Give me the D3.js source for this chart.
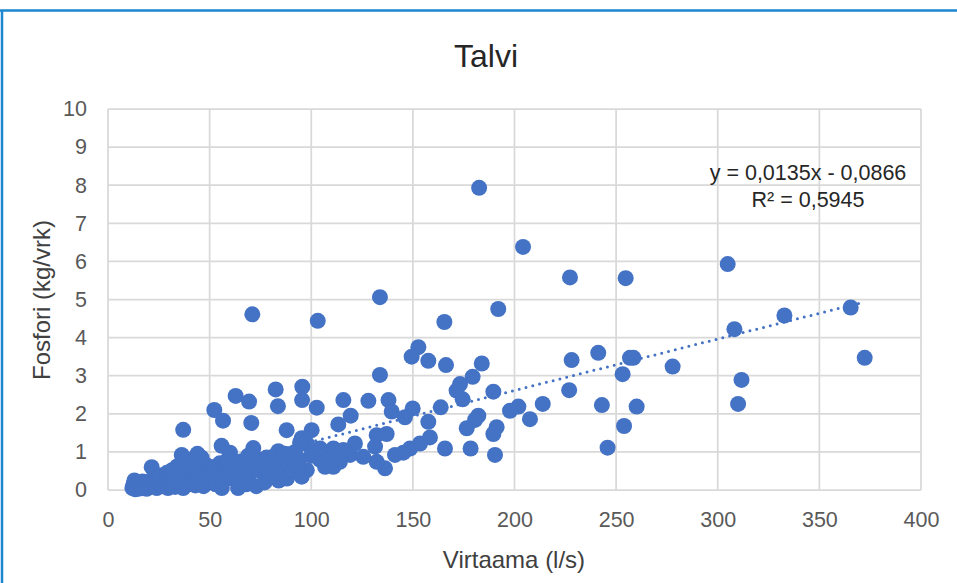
<!DOCTYPE html>
<html>
<head>
<meta charset="utf-8">
<script src="https://cdn.jsdelivr.net/npm/d3@7"></script>
<style>
  body { margin: 0; background: #fff; }
  svg { display: block; font-family: "Liberation Sans", Arial, sans-serif; }
</style>
</head>
<body>
<div class="svg-container"></div>
<script>
// Talvi: virtaama (l/s) vs fosfori (kg/vrk)
const virtaama = [
  // outliers / right side
  182.6, 204.2, 227.3, 254.7, 304.9, 133.8, 71, 103.2, 165.5, 192, 365.4, 332.8, 308.2, 372.3,
  277.8, 258.5, 256.8, 241.2, 228.1, 253.2, 311.7, 310, 226.9, 213.9, 243, 260.1, 253.9, 245.8,
  // middle
  152.7, 149.4, 157.6, 166.3, 183.9, 179.4, 173.2, 171.5, 174.5, 189.6, 163.7, 149.9, 146.1, 157.6,
  182.2, 180.6, 176.5, 191.2, 189.6, 197.8, 201.9, 207.6, 158.4, 153.5, 148.6, 145.3, 165.8, 178.4,
  190.4, 133.8, 141.2, 136.3, 138, 139.6, 132.2, 137.1, 131.4, 132.2,
  95.6, 95.5, 102.7, 115.8, 128.1, 119.4, 113.3, 100.2, 95.3, 121.5, 110.9, 104.3, 125.6, 119.1,
  114.1, 110.9, 104.3, 97.8, 95.3, 106.8, 115.8, 98, 100,
  37, 52.3, 56.6, 62.8, 69.4, 82.5, 83.6, 70.5, 87.9, 55.9, 60, 71.5, 83.8, 94.5, 21.5, 36.3, 44,
  // dense low cluster
  12, 12.5, 13, 13.5, 14, 15, 15.5, 16, 17, 17.5, 18, 19, 19.5, 20,
  22, 22.5, 23, 24, 25, 25.5, 26, 27, 28, 29, 29.5, 30,
  31, 31.5, 32, 33, 33.5, 34, 35, 35.5, 36, 37, 37.5, 38, 39, 39.5, 40,
  41, 41.5, 42, 43, 43.5, 44, 45, 46, 46.5, 47, 48, 48.5, 49, 50,
  51, 52, 53, 54, 55, 56, 57, 58, 59, 60,
  61, 62, 63, 64, 65, 66, 67, 68, 69, 70,
  72, 73, 74, 75, 76, 77, 78, 79, 80,
  81, 82, 83, 84, 85, 86, 87, 88, 89, 90, 91, 92, 93, 94,
  102, 105, 108, 112
];
const fosfori = [
  7.93, 6.38, 5.58, 5.56, 5.93, 5.06, 4.61, 4.44, 4.41, 4.75, 4.79, 4.58, 4.22, 3.47,
  3.24, 3.47, 3.47, 3.6, 3.41, 3.04, 2.89, 2.26, 2.62, 2.26, 2.23, 2.19, 1.68, 1.11,
  3.75, 3.5, 3.39, 3.28, 3.32, 2.97, 2.78, 2.61, 2.38, 2.58, 2.17, 2.14, 1.91, 1.79,
  1.95, 1.84, 1.62, 1.65, 1.47, 2.08, 2.19, 1.86, 1.38, 1.22, 1.09, 0.98, 1.09, 1.09,
  0.92, 3.02, 0.92, 0.57, 2.36, 2.06, 1.44, 1.47, 1.14, 0.74,
  2.71, 2.36, 2.16, 2.36, 2.34, 1.95, 1.72, 1.57, 1.36, 1.22, 1.09, 1.09, 0.87, 0.92,
  0.74, 0.61, 0.79, 0.52, 0.35, 0.61, 1.05, 1.2, 0.9,
  1.58, 2.1, 1.82, 2.47, 2.32, 2.64, 2.2, 1.76, 1.57, 1.16, 0.98, 1.1, 1.02, 1.25, 0.6, 0.92, 0.95,
  0.05, 0.15, 0.25, 0.02, 0.1, 0.18, 0.04, 0.12, 0.22, 0.06, 0.15, 0.03, 0.2, 0.1,
  0.3, 0.12, 0.2, 0.05, 0.28, 0.15, 0.38, 0.1, 0.22, 0.45, 0.05, 0.3,
  0.15, 0.52, 0.25, 0.08, 0.4, 0.62, 0.18, 0.35, 0.7, 0.05, 0.5, 0.25, 0.8, 0.4, 0.15,
  0.55, 0.3, 0.75, 0.12, 0.45, 0.6, 0.25, 0.85, 0.5, 0.1, 0.35, 0.65, 0.2, 0.5,
  0.3, 0.6, 0.15, 0.45, 0.7, 0.05, 0.55, 0.35, 0.8, 0.5,
  0.3, 0.65, 0.45, 0.05, 0.75, 0.55, 0.35, 0.15, 0.9, 0.45,
  0.6, 0.1, 0.8, 0.5, 0.65, 0.2, 0.85, 0.55, 0.7,
  0.45, 0.9, 0.6, 0.25, 0.75, 0.55, 0.95, 0.3, 0.7, 0.85, 0.5, 1.0, 0.65, 0.8,
  0.95, 0.85, 0.75, 0.9
];
const xTicks = [0, 50, 100, 150, 200, 250, 300, 350, 400];
const yTicks = [0, 1, 2, 3, 4, 5, 6, 7, 8, 9, 10];
const trendSlope = 0.0135;
const trendIntercept = -0.0866;
const trendLabels = ["y = 0,0135x - 0,0866", "R\u00b2 = 0,5945"];

const width = 957, height = 583;
const blue = "#4472C4", grid = "#d9d9d9", textColor = "#595959";

const svg = d3.select(".svg-container").append("svg")
  .attr("width", width)
  .attr("height", height);

svg.append("rect").attr("width", width).attr("height", height).attr("fill", "#fff");

// chart frame (selected chart in excel has blue border)
svg.append("line").attr("x1", 0).attr("x2", width).attr("y1", 10.5).attr("y2", 10.5)
  .attr("stroke", "#1c87d0").attr("stroke-width", 2.5);
svg.append("line").attr("x1", 2).attr("x2", 2).attr("y1", 10).attr("y2", height)
  .attr("stroke", "#1c87d0").attr("stroke-width", 2.5);

const x = d3.scaleLinear().domain([0, 400]).range([108, 921]);
const y = d3.scaleLinear().domain([0, 10]).range([490, 109]);

// gridlines
svg.append("g").selectAll("line.v").data(xTicks).enter().append("line")
  .attr("x1", d => x(d)).attr("x2", d => x(d))
  .attr("y1", y(0)).attr("y2", y(10))
  .attr("stroke", grid).attr("stroke-width", 1.75);
svg.append("g").selectAll("line.h").data(yTicks).enter().append("line")
  .attr("x1", x(0)).attr("x2", x(400))
  .attr("y1", d => y(d)).attr("y2", d => y(d))
  .attr("stroke", grid).attr("stroke-width", 1.75);

// axes (labels only, lines hidden)
const xAxis = svg.append("g")
  .attr("transform", "translate(0," + y(0) + ")")
  .call(d3.axisBottom(x).tickValues(xTicks).tickSize(0).tickPadding(22));
const yAxis = svg.append("g")
  .attr("transform", "translate(" + x(0) + ",0)")
  .call(d3.axisLeft(y).tickValues(yTicks).tickSize(0).tickPadding(21));
[xAxis, yAxis].forEach(function(a) {
  a.select(".domain").remove();
  a.selectAll("text")
    .attr("fill", textColor)
    .style("font-size", "21.5px")
    .style("font-family", "Liberation Sans, Arial, sans-serif");
});

// points
const points = virtaama.map(function(v, i) { return {v: v, p: fosfori[i]}; });
svg.append("g").selectAll("circle").data(points).enter().append("circle")
  .attr("cx", d => x(d.v))
  .attr("cy", d => y(d.p))
  .attr("r", 8)
  .attr("fill", blue);

// linear trendline
const xMin = d3.min(virtaama), xMax = d3.max(virtaama);
svg.append("line")
  .attr("x1", x(xMin)).attr("y1", y(trendSlope * xMin + trendIntercept))
  .attr("x2", x(xMax)).attr("y2", y(trendSlope * xMax + trendIntercept))
  .attr("stroke", blue)
  .attr("stroke-width", 3)
  .attr("stroke-linecap", "round")
  .attr("stroke-dasharray", "0,7");

svg.append("g").selectAll("text").data(trendLabels).enter().append("text")
  .attr("x", 808)
  .attr("y", (d, i) => 180 + i * 27)
  .attr("text-anchor", "middle")
  .attr("fill", "#262626")
  .style("font-size", "21.5px")
  .text(d => d);

// title + axis titles
svg.append("text")
  .attr("x", 486).attr("y", 67)
  .attr("text-anchor", "middle")
  .attr("fill", "#262626")
  .style("font-size", "32px")
  .text("Talvi");

svg.append("text")
  .attr("x", 514).attr("y", 568)
  .attr("text-anchor", "middle")
  .attr("fill", "#404040")
  .style("font-size", "24px")
  .text("Virtaama (l/s)");

svg.append("text")
  .attr("transform", "translate(50,300) rotate(-90)")
  .attr("text-anchor", "middle")
  .attr("fill", "#404040")
  .style("font-size", "24px")
  .text("Fosfori (kg/vrk)");
</script>
</body>
</html>
